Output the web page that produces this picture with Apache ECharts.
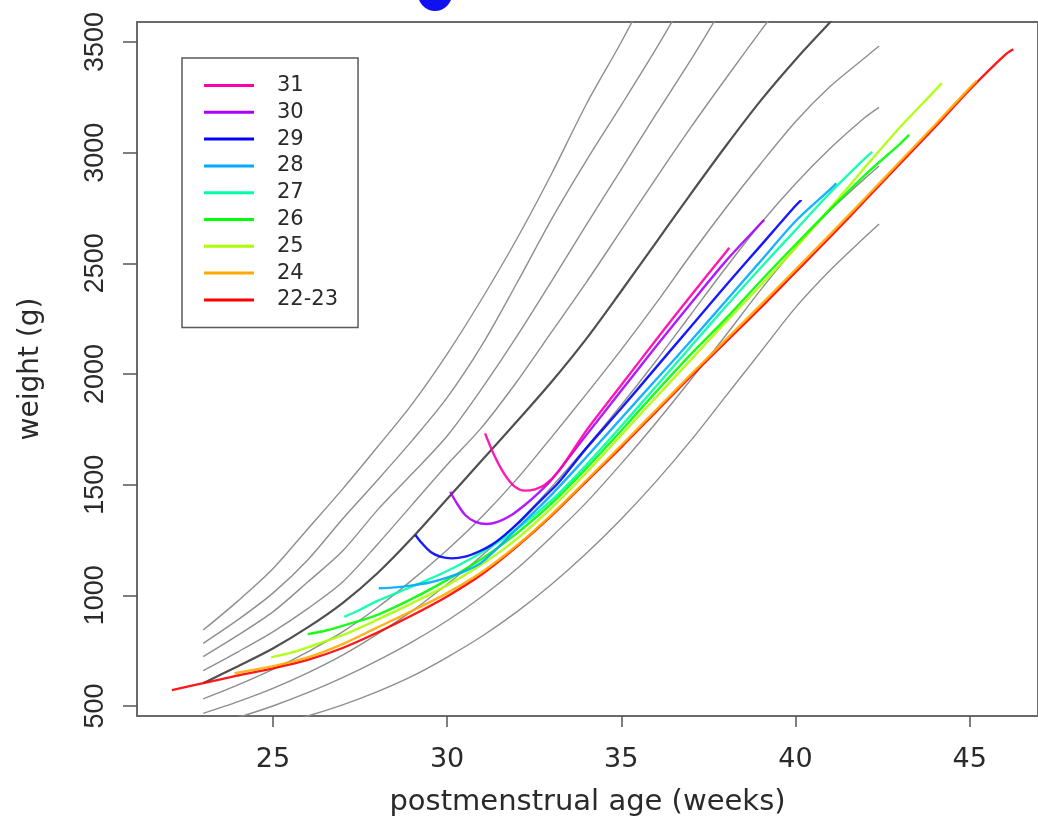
<!DOCTYPE html>
<html>
<head>
<meta charset="utf-8">
<script src="https://cdn.jsdelivr.net/npm/echarts@6/dist/echarts.min.js"></script>
<style>
  html, body { margin: 0; padding: 0; background: #fff; }
  #chart { width: 1038px; height: 828px; }
</style>
</head>
<body>
<div id="chart"></div>
<script>
// reference curves (grey), same week grid for all of them
var refWeeks = [23, 24, 25, 26, 27, 28, 29, 30, 31, 32, 33, 34, 35, 36, 37, 38, 39, 40, 41, 42, 42.4];
var refUpper1 = [843, 975, 1120, 1300, 1480, 1670, 1865, 2090, 2340, 2610, 2905, 3220, 3500, 3800, null, null, null, null, null, null, null];
var refUpper2 = [783, 890, 1010, 1160, 1345, 1520, 1700, 1893, 2130, 2410, 2700, 2965, 3215, 3470, 3740, null, null, null, null, null, null];
var refUpper3 = [723, 820, 925, 1060, 1200, 1385, 1550, 1720, 1935, 2170, 2420, 2675, 2925, 3175, 3420, 3680, null, null, null, null, null];
var refUpper4 = [660, 745, 835, 940, 1060, 1230, 1410, 1590, 1760, 1965, 2190, 2415, 2650, 2885, 3115, 3335, 3550, 3760, null, null, null];
var refMedian = [603, 680, 760, 855, 965, 1100, 1260, 1435, 1610, 1785, 1965, 2160, 2375, 2595, 2815, 3030, 3235, 3420, 3590, 3760, null];
var refLower1 = [532, 595, 665, 745, 835, 945, 1070, 1205, 1355, 1525, 1715, 1910, 2110, 2320, 2540, 2750, 2950, 3140, 3300, 3430, 3482];
var refLower2 = [467, 520, 580, 650, 730, 825, 930, 1050, 1180, 1325, 1490, 1670, 1860, 2060, 2270, 2480, 2680, 2860, 3020, 3160, 3205];
var refLower3 = [400, 448, 500, 560, 628, 705, 790, 885, 995, 1120, 1265, 1420, 1595, 1780, 1975, 2175, 2380, 2570, 2740, 2885, 2940];
var refLower4 = [340, 375, 415, 455, 505, 565, 635, 720, 815, 925, 1050, 1190, 1345, 1515, 1700, 1900, 2100, 2300, 2470, 2620, 2678];

// gestational age groups
var gaNames = ['31', '30', '29', '28', '27', '26', '25', '24', '22-23'];
var gaColors = ['#ff00aa', '#aa00ff', '#0000ff', '#00aaff', '#00ffaa', '#00ff00', '#aaff00', '#ffaa00', '#ff0000'];

var w31 = [31.09, 31.37, 31.66, 31.94, 32.23, 32.52, 32.8, 33.2, 34, 35, 36, 37, 38, 38.1];
var g31 = [1732, 1627, 1544, 1491, 1473, 1479, 1499, 1560, 1745, 1950, 2155, 2355, 2550, 2570];
var w30 = [30.09, 30.28, 30.52, 30.8, 31.13, 31.47, 31.85, 32.23, 32.61, 32.99, 34, 35, 36, 37, 38, 39, 39.1];
var g30 = [1468, 1416, 1363, 1333, 1322, 1333, 1363, 1408, 1461, 1521, 1725, 1925, 2125, 2320, 2510, 2680, 2696];
var w29 = [29.09, 29.28, 29.52, 29.8, 30.14, 30.52, 30.9, 31.28, 31.66, 32.04, 32.42, 32.8, 33.18, 34, 35, 36, 37, 38, 39, 40, 40.17];
var g29 = [1273, 1235, 1197, 1175, 1167, 1175, 1197, 1228, 1273, 1326, 1386, 1446, 1506, 1665, 1845, 2030, 2215, 2400, 2580, 2760, 2787];
var w28 = [28.04, 28.5, 29, 29.5, 30, 30.5, 31, 32, 33, 34, 35, 36, 37, 38, 39, 40, 41, 41.17];
var g28 = [1032, 1036, 1045, 1058, 1080, 1108, 1150, 1300, 1455, 1625, 1800, 1975, 2150, 2330, 2510, 2690, 2835, 2862];
var w27 = [27.05, 27.5, 28, 29, 30, 31, 32, 33, 34, 35, 36, 37, 38, 39, 40, 41, 42, 42.2];
var g27 = [903, 935, 975, 1040, 1110, 1195, 1300, 1430, 1590, 1765, 1945, 2125, 2305, 2480, 2650, 2820, 2975, 3004];
var w26 = [26.0, 26.5, 27, 28, 29, 30, 31, 32, 33, 34, 35, 36, 37, 38, 39, 40, 41, 42, 43, 43.26];
var g26 = [825, 840, 862, 912, 985, 1070, 1165, 1280, 1415, 1575, 1745, 1920, 2090, 2250, 2420, 2585, 2745, 2900, 3040, 3080];
var w25 = [24.95, 25.5, 26, 27, 28, 29, 30, 31, 32, 33, 34, 35, 36, 37, 38, 39, 40, 41, 42, 43, 44, 44.2];
var g25 = [720, 740, 765, 820, 890, 965, 1045, 1140, 1255, 1395, 1555, 1725, 1895, 2065, 2235, 2400, 2570, 2750, 2935, 3115, 3280, 3314];
var w24 = [23.9, 24.5, 25, 26, 27, 28, 29, 30, 31, 32, 33, 34, 35, 36, 37, 38, 39, 40, 41, 42, 43, 44, 45, 45.2];
var g24 = [648, 665, 680, 720, 780, 855, 930, 1010, 1105, 1225, 1365, 1520, 1678, 1838, 1998, 2155, 2312, 2472, 2632, 2795, 2960, 3125, 3293, 3325];
var w2223 = [22.1, 23, 24, 25, 26, 27, 28, 29, 30, 31, 32, 33, 34, 35, 36, 37, 38, 39, 40, 41, 42, 43, 44, 45, 46, 46.25];
var g2223 = [572, 603, 638, 670, 708, 762, 832, 910, 995, 1095, 1220, 1360, 1515, 1670, 1830, 1990, 2145, 2300, 2460, 2620, 2785, 2950, 3115, 3285, 3440, 3467];

var xTicks = [25, 30, 35, 40, 45];
var yTicks = [500, 1000, 1500, 2000, 2500, 3000, 3500];

function pairs(xs, ys) {
  var out = [];
  for (var i = 0; i < xs.length; i++) {
    out.push([xs[i], ys[i]]);
  }
  return out;
}

var series = [];
var refs = [refUpper1, refUpper2, refUpper3, refUpper4, refLower1, refLower2, refLower3, refLower4];
for (var i = 0; i < refs.length; i++) {
  series.push({
    type: 'line',
    data: pairs(refWeeks, refs[i]),
    showSymbol: false,
    smooth: 0.3,
    silent: true,
    lineStyle: { color: '#8e8e8e', width: 1.4 },
    z: 2
  });
}
series.push({
  type: 'line',
  data: pairs(refWeeks, refMedian),
  showSymbol: false,
  smooth: 0.3,
  silent: true,
  lineStyle: { color: '#4f4f4f', width: 2.2 },
  z: 3
});

var gaWeeks = [w31, w30, w29, w28, w27, w26, w25, w24, w2223];
var gaGrams = [g31, g30, g29, g28, g27, g26, g25, g24, g2223];
// draw 22-23 first so 31 ends up on top
for (var j = gaNames.length - 1; j >= 0; j--) {
  series.push({
    name: gaNames[j],
    type: 'line',
    data: pairs(gaWeeks[j], gaGrams[j]),
    showSymbol: false,
    smooth: 0.3,
    lineStyle: { color: gaColors[j], width: 2.4, opacity: 0.9 },
    itemStyle: { color: gaColors[j] },
    z: 4
  });
}

var myChart = echarts.init(document.getElementById('chart'), null, { renderer: 'canvas' });
var option = {
  backgroundColor: '#fff',
  animation: false,
  textStyle: { fontFamily: 'DejaVu Sans' },
  grid: {
    left: 137,
    top: 22,
    width: 906,
    height: 694,
    show: true,
    borderColor: '#6a6a6a',
    borderWidth: 2,
    backgroundColor: 'transparent'
  },
  graphic: [
    {
      type: 'circle',
      shape: { cx: 435, cy: -6, r: 17 },
      style: { fill: '#1010f0' },
      silent: true
    }
  ],
  legend: {
    data: gaNames,
    orient: 'vertical',
    left: 182,
    top: 58,
    padding: [17, 20, 17, 22],
    itemGap: 5.8,
    itemWidth: 50,
    itemHeight: 3,
    icon: 'rect',
    backgroundColor: '#fff',
    borderColor: '#5a5a5a',
    borderWidth: 1.5,
    textStyle: {
      fontFamily: 'DejaVu Sans',
      fontSize: 21,
      lineHeight: 20,
      color: '#2a2a2a',
      padding: [0, 0, 0, 18]
    }
  },
  xAxis: {
    type: 'value',
    min: 21.1,
    max: 46.96,
    name: 'postmenstrual age (weeks)',
    nameLocation: 'middle',
    nameGap: 72,
    nameTextStyle: { fontFamily: 'DejaVu Sans', fontSize: 29, color: '#2a2a2a' },
    splitLine: { show: false },
    axisLine: { show: false },
    axisTick: { show: true, length: 11, customValues: xTicks, lineStyle: { color: '#555', width: 1.5 } },
    axisLabel: { customValues: xTicks, margin: 30, fontFamily: 'DejaVu Sans', fontSize: 27, color: '#2a2a2a' }
  },
  yAxis: {
    type: 'value',
    min: 454.8,
    max: 3590.4,
    name: 'weight (g)',
    nameLocation: 'middle',
    nameGap: 92,
    nameRotate: 90,
    nameTextStyle: { fontFamily: 'DejaVu Sans', fontSize: 28, color: '#2a2a2a' },
    splitLine: { show: false },
    axisLine: { show: false },
    axisTick: { show: true, length: 14, customValues: yTicks, lineStyle: { color: '#555', width: 1.5 } },
    axisLabel: {
      customValues: yTicks,
      rotate: 90,
      margin: 28,
      fontFamily: 'Liberation Sans',
      fontSize: 27,
      color: '#2a2a2a',
      formatter: function (v) { return String(v); }
    }
  },
  series: series
};
myChart.setOption(option);
</script>
</body>
</html>
